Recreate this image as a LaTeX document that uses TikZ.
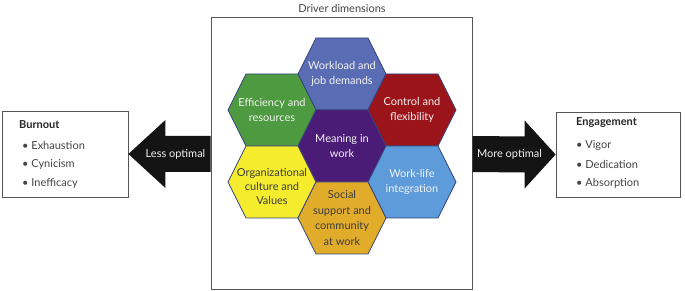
\documentclass[tikz,border=0pt]{standalone}
\usepackage{fontspec}
\setmainfont{Lato}
\usetikzlibrary{calc}
\definecolor{cWork}{HTML}{5A6DB4}
\definecolor{cEff}{HTML}{4E9A40}
\definecolor{cCtrl}{HTML}{9A1419}
\definecolor{cMean}{HTML}{4A1B77}
\definecolor{cOrg}{HTML}{F4EC2C}
\definecolor{cLife}{HTML}{5D9BDA}
\definecolor{cSoc}{HTML}{E2AC2B}
\definecolor{cHexLine}{HTML}{34437A}
\definecolor{cBox}{HTML}{555555}
\definecolor{cTxt}{HTML}{444444}
\definecolor{cLight}{HTML}{F2F2F2}
\newcommand\hexshape[3]{%
  \filldraw[fill=#3,draw=cHexLine,line width=0.8pt]
    (#1-44,#2) -- (#1-26,#2+36) -- (#1+26,#2+36) -- (#1+44,#2) --
    (#1+26,#2-36) -- (#1-26,#2-36) -- cycle;}
\begin{document}
\begin{tikzpicture}[x=1pt,y=1pt,
  hextext/.style={align=center,font=\fontsize{11}{15.5}\selectfont,inner sep=0pt},
  lighttext/.style={hextext,text=cLight},
  darktext/.style={hextext,text=cTxt!90!black},
  sidebox/.style={draw=cBox,line width=0.8pt,fill=white,inner sep=0pt},
  heading/.style={anchor=west,font=\fontsize{11}{13}\selectfont\bfseries,text=black!85,inner sep=0pt},
  item/.style={anchor=west,font=\fontsize{11}{13}\selectfont,text=cTxt,inner sep=0pt},
  fat/.style={fill=black!92},
  arrowlabel/.style={font=\fontsize{11}{13}\selectfont,text=cLight,inner sep=0pt}]
\useasboundingbox (0,0) rectangle (685,291);
% main frame
\node[draw=cBox,line width=1pt,minimum width=261pt,minimum height=272pt,inner sep=0pt] (main) at (341.5,137) {};
\node[font=\fontsize{11}{13}\selectfont,text=cTxt,inner sep=0pt] (title) at (342,283) {Driver dimensions};
% hexagons
\hexshape{342}{217}{cWork}
\hexshape{272}{181}{cEff}
\hexshape{412}{181}{cCtrl}
\hexshape{342}{145}{cMean}
\hexshape{272}{109}{cOrg}
\hexshape{412}{109}{cLife}
\hexshape{342}{73}{cSoc}
\node[lighttext] (work) at (342,217) {Workload and\\job demands};
\node[lighttext] (eff) at (272,181) {Efficiency and\\resources};
\node[lighttext] (ctrl) at (412,181) {Control and\\flexibility};
\node[lighttext] (mean) at (342,145) {Meaning in\\work};
\node[darktext,font=\fontsize{11}{14}\selectfont] (org) at (272,105) {Organizational\\culture and\\Values};
\node[lighttext] (life) at (412,109) {Work-life\\integration};
\node[darktext] (soc) at (342,73) {Social\\support and\\community\\at work};
% side boxes
\node[sidebox,minimum width=126pt,minimum height=86pt] (burnout) at (65,137) {};
\node[sidebox,minimum width=124pt,minimum height=85pt] (engage) at (618,136.5) {};
\node[heading] (bh) at (19,166) {Burnout};
\node[item] (b1) at (22,146) {\textbullet\ Exhaustion};
\node[item] (b2) at (22,127) {\textbullet\ Cynicism};
\node[item] (b3) at (22,108) {\textbullet\ Inefficacy};
\node[heading] (eh) at (576,168) {Engagement};
\node[item] (e1) at (576,146) {\textbullet\ Vigor};
\node[item] (e2) at (576,127) {\textbullet\ Dedication};
\node[item] (e3) at (576,108) {\textbullet\ Absorption};
% arrows
\fill[fat] (burnout.east) -- ++(37,34) -- ++(0,-16) -- ($(main.west)+(0,18)$) --
  ($(main.west)+(0,-18)$) -- ($(burnout.east)+(37,-18)$) -- ++(0,-16) -- cycle;
\fill[fat] (engage.west) -- ++(-31,34) -- ++(0,-16) -- ($(main.east)+(0,18)$) --
  ($(main.east)+(0,-18)$) -- ($(engage.west)+(-31,-18)$) -- ++(0,-16) -- cycle;
\node[arrowlabel] (less) at (175.5,137) {Less optimal};
\node[arrowlabel] (more) at (509.5,137) {More optimal};
\end{tikzpicture}
\end{document}
